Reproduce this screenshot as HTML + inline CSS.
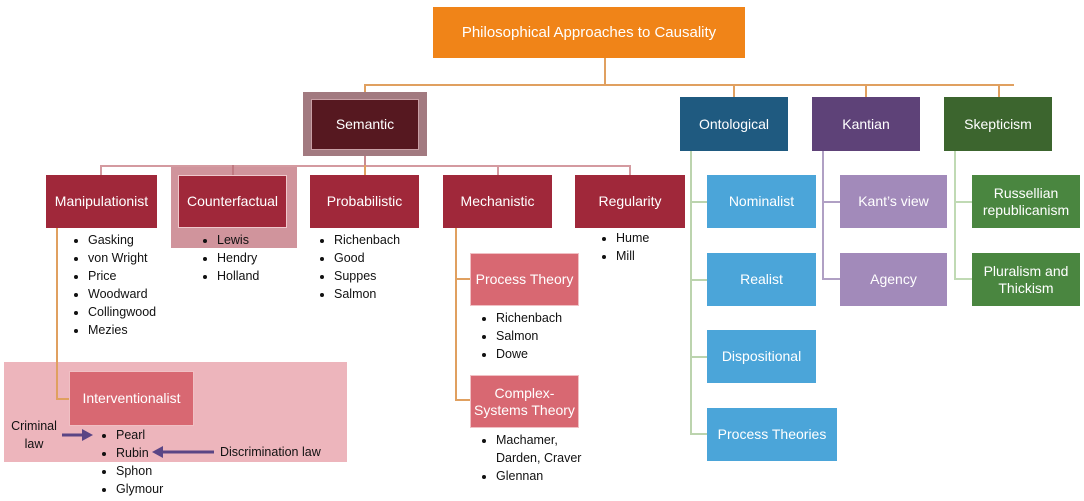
<!DOCTYPE html>
<html><head><meta charset="utf-8"><style>
body{margin:0;width:1084px;height:501px;background:#fff;position:relative;overflow:hidden;font-family:"Liberation Sans",sans-serif;}
.b{position:absolute;display:flex;align-items:center;justify-content:center;text-align:center;color:#fff;font-size:14px;line-height:17px;box-sizing:border-box;}
.l{position:absolute;}
ul{position:absolute;margin:0;padding:0 0 0 16px;font-size:12.5px;line-height:18px;color:#111;}
.t{position:absolute;font-size:12.5px;line-height:18px;color:#111;text-align:center;}
</style></head><body>
<!-- connectors top -->
<div class="l" style="left:604px;top:58px;width:2px;height:28px;background:#e0a060"></div>
<div class="l" style="left:364px;top:84px;width:650px;height:2px;background:#e0a060"></div>
<div class="l" style="left:364px;top:84px;width:2px;height:12px;background:#e0a060"></div>
<div class="l" style="left:733px;top:84px;width:2px;height:13px;background:#e0a060"></div>
<div class="l" style="left:865px;top:84px;width:2px;height:13px;background:#e0a060"></div>
<div class="l" style="left:998px;top:84px;width:2px;height:13px;background:#e0a060"></div>

<div class="b" style="left:433px;top:7px;width:312px;height:51px;background:#f08418;font-size:15px">Philosophical Approaches to Causality</div>

<!-- semantic -->
<div class="l" style="left:303px;top:92px;width:124px;height:64px;background:#a27a80"></div>
<div class="b" style="left:311px;top:99px;width:108px;height:51px;background:#561820;border:1px solid #c9a0a6">Semantic</div>
<div class="l" style="left:364px;top:156px;width:2px;height:11px;background:#c98a90"></div>
<div class="l" style="left:100px;top:165px;width:530px;height:2px;background:#d49aa0"></div>
<div class="l" style="left:100px;top:165px;width:2px;height:10px;background:#d49aa0"></div>
<div class="l" style="left:364px;top:165px;width:2px;height:10px;background:#e0a060"></div>
<div class="l" style="left:497px;top:165px;width:2px;height:10px;background:#d49aa0"></div>
<div class="l" style="left:629px;top:165px;width:2px;height:10px;background:#d49aa0"></div>
<div class="l" style="left:171px;top:167px;width:126px;height:81px;background:#d0949c"></div>
<div class="l" style="left:232px;top:165px;width:2px;height:10px;background:#c07a82"></div>

<div class="b" style="left:46px;top:175px;width:111px;height:53px;background:#a0283a">Manipulationist</div>
<div class="b" style="left:178px;top:175px;width:109px;height:53px;background:#a0283a;border:1px solid #f0c8cc">Counterfactual</div>
<div class="b" style="left:310px;top:175px;width:109px;height:53px;background:#a0283a">Probabilistic</div>
<div class="b" style="left:443px;top:175px;width:109px;height:53px;background:#a0283a">Mechanistic</div>
<div class="b" style="left:575px;top:175px;width:110px;height:53px;background:#a0283a">Regularity</div>

<ul style="left:72px;top:231px"><li>Gasking</li><li>von Wright</li><li>Price</li><li>Woodward</li><li>Collingwood</li><li>Mezies</li></ul>
<ul style="left:201px;top:231px"><li>Lewis</li><li>Hendry</li><li>Holland</li></ul>
<ul style="left:318px;top:231px"><li>Richenbach</li><li>Good</li><li>Suppes</li><li>Salmon</li></ul>
<ul style="left:600px;top:229px"><li>Hume</li><li>Mill</li></ul>

<!-- mechanistic -->
<div class="l" style="left:455px;top:228px;width:2px;height:172px;background:#e0a060"></div>
<div class="l" style="left:455px;top:278px;width:15px;height:2px;background:#e0a060"></div>
<div class="l" style="left:455px;top:399px;width:15px;height:2px;background:#e0a060"></div>
<div class="b" style="left:470px;top:253px;width:109px;height:53px;background:#d86872;border:1px solid #f0c0c4">Process Theory</div>
<ul style="left:480px;top:309px"><li>Richenbach</li><li>Salmon</li><li>Dowe</li></ul>
<div class="b" style="left:470px;top:375px;width:109px;height:53px;background:#d86872;border:1px solid #f0c0c4">Complex-Systems Theory</div>
<ul style="left:480px;top:431px"><li>Machamer,<br>Darden, Craver</li><li>Glennan</li></ul>

<!-- interventionalist -->
<div class="l" style="left:4px;top:362px;width:343px;height:100px;background:#edb5bc"></div>
<div class="l" style="left:56px;top:228px;width:2px;height:171px;background:#e0a060"></div>
<div class="l" style="left:56px;top:398px;width:14px;height:2px;background:#e0a060"></div>
<div class="b" style="left:69px;top:371px;width:125px;height:55px;background:#d86872;border:1px solid #f0c0c4">Interventionalist</div>
<ul style="left:100px;top:426px"><li>Pearl</li><li>Rubin</li><li>Sphon</li><li>Glymour</li></ul>
<div class="t" style="left:6px;top:417px;width:56px;line-height:18px">Criminal<br>law</div>
<svg class="l" style="left:60px;top:428px" width="36" height="14"><line x1="2" y1="7" x2="24" y2="7" stroke="#5a4585" stroke-width="3"/><polygon points="22,1 33,7 22,13" fill="#5a4585"/></svg>
<svg class="l" style="left:150px;top:445px" width="66" height="14"><line x1="10" y1="7" x2="64" y2="7" stroke="#5a4585" stroke-width="3"/><polygon points="13,1 2,7 13,13" fill="#5a4585"/></svg>
<div class="t" style="left:220px;top:443px;width:118px;text-align:left">Discrimination law</div>

<!-- ontological -->
<div class="b" style="left:680px;top:97px;width:108px;height:54px;background:#1f5a80">Ontological</div>
<div class="l" style="left:690px;top:151px;width:2px;height:283px;background:#bcd4ae"></div>
<div class="l" style="left:690px;top:201px;width:18px;height:2px;background:#bcd4ae"></div>
<div class="l" style="left:690px;top:279px;width:18px;height:2px;background:#bcd4ae"></div>
<div class="l" style="left:690px;top:356px;width:18px;height:2px;background:#bcd4ae"></div>
<div class="l" style="left:690px;top:433px;width:18px;height:2px;background:#bcd4ae"></div>
<div class="b" style="left:707px;top:175px;width:109px;height:53px;background:#4ba5d9">Nominalist</div>
<div class="b" style="left:707px;top:253px;width:109px;height:53px;background:#4ba5d9">Realist</div>
<div class="b" style="left:707px;top:330px;width:109px;height:53px;background:#4ba5d9">Dispositional</div>
<div class="b" style="left:707px;top:408px;width:130px;height:53px;background:#4ba5d9">Process Theories</div>

<!-- kantian -->
<div class="b" style="left:812px;top:97px;width:108px;height:54px;background:#5e4278">Kantian</div>
<div class="l" style="left:822px;top:151px;width:2px;height:129px;background:#b0a0c4"></div>
<div class="l" style="left:822px;top:201px;width:18px;height:2px;background:#b0a0c4"></div>
<div class="l" style="left:822px;top:278px;width:18px;height:2px;background:#b0a0c4"></div>
<div class="b" style="left:840px;top:175px;width:107px;height:53px;background:#a28aba">Kant’s view</div>
<div class="b" style="left:840px;top:253px;width:107px;height:53px;background:#a28aba">Agency</div>

<!-- skepticism -->
<div class="b" style="left:944px;top:97px;width:108px;height:54px;background:#3c652e">Skepticism</div>
<div class="l" style="left:954px;top:151px;width:2px;height:129px;background:#c0dab4"></div>
<div class="l" style="left:954px;top:201px;width:18px;height:2px;background:#c0dab4"></div>
<div class="l" style="left:954px;top:278px;width:18px;height:2px;background:#c0dab4"></div>
<div class="b" style="left:972px;top:175px;width:108px;height:53px;background:#4a8640">Russellian republicanism</div>
<div class="b" style="left:972px;top:253px;width:108px;height:53px;background:#4a8640">Pluralism and Thickism</div>
</body></html>
